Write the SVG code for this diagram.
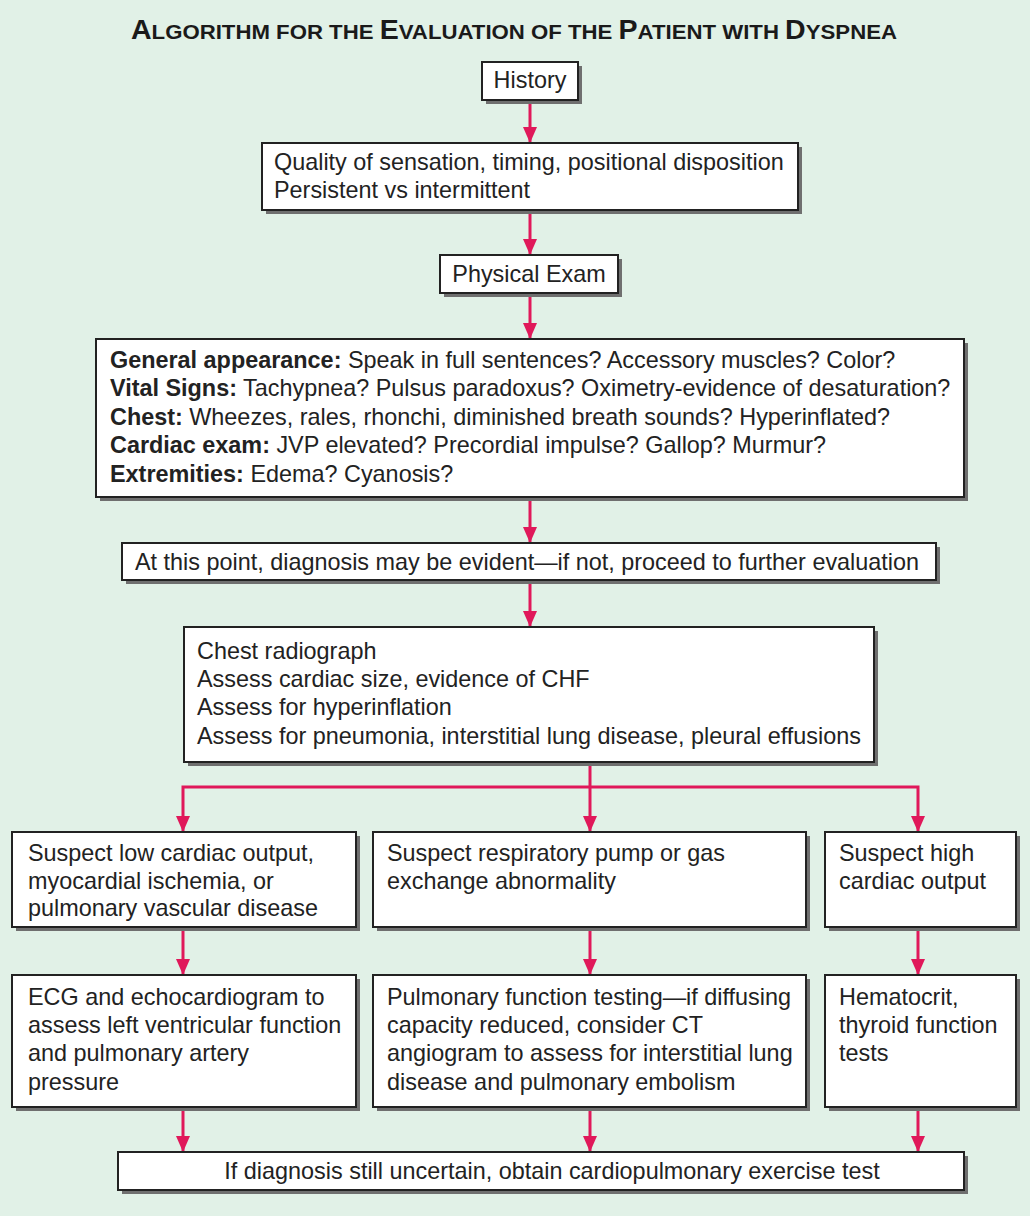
<svg xmlns="http://www.w3.org/2000/svg" width="1030" height="1216" viewBox="0 0 1030 1216">
<defs>
<style>
.bg{fill:#e1f1e7}
.sh{fill:#6f6f6f}
.bx{fill:#ffffff;stroke:#222;stroke-width:2}
.t{font-family:"Liberation Sans",Arial,sans-serif;font-size:23.4px;fill:#222}
.b{font-weight:bold}
.title{font-family:"Liberation Sans",Arial,sans-serif;font-weight:bold;fill:#1a1a1a}
.c{stroke:#e0185a;stroke-width:3;fill:none}
</style>
<marker id="ad" markerWidth="14" markerHeight="16" refX="7" refY="16" orient="0" markerUnits="userSpaceOnUse" viewBox="0 0 14 16">
<path d="M0,0 L14,0 L7,16 Z" fill="#e0185a"/>
</marker>
</defs>
<rect class="bg" x="0" y="0" width="1030" height="1216"/>
<text class="title" x="514" y="39" text-anchor="middle" textLength="766" lengthAdjust="spacingAndGlyphs"><tspan font-size="27">A</tspan><tspan font-size="21">LGORITHM FOR THE </tspan><tspan font-size="27">E</tspan><tspan font-size="21">VALUATION OF THE </tspan><tspan font-size="27">P</tspan><tspan font-size="21">ATIENT WITH </tspan><tspan font-size="27">D</tspan><tspan font-size="21">YSPNEA</tspan></text>

<g id="connectors">
<line class="c" x1="530" y1="100" x2="530" y2="143" marker-end="url(#ad)"/>
<line class="c" x1="530" y1="210" x2="530" y2="255" marker-end="url(#ad)"/>
<line class="c" x1="530" y1="293" x2="530" y2="339" marker-end="url(#ad)"/>
<line class="c" x1="530" y1="497" x2="530" y2="543" marker-end="url(#ad)"/>
<line class="c" x1="530" y1="580" x2="530" y2="627" marker-end="url(#ad)"/>
<polyline class="c" points="590,762 590,787"/>
<polyline class="c" points="183,832 183,787 918,787 918,832" marker-start="url(#ad)" marker-end="url(#ad)"/>
<line class="c" x1="590" y1="787" x2="590" y2="832" marker-end="url(#ad)"/>
<line class="c" x1="183" y1="927" x2="183" y2="975" marker-end="url(#ad)"/>
<line class="c" x1="590" y1="927" x2="590" y2="975" marker-end="url(#ad)"/>
<line class="c" x1="918" y1="927" x2="918" y2="975" marker-end="url(#ad)"/>
<line class="c" x1="183" y1="1107" x2="183" y2="1152" marker-end="url(#ad)"/>
<line class="c" x1="590" y1="1107" x2="590" y2="1152" marker-end="url(#ad)"/>
<line class="c" x1="918" y1="1107" x2="918" y2="1152" marker-end="url(#ad)"/>
</g>

<g id="history">
<rect class="sh" x="486" y="66" width="96" height="38"/>
<rect class="bx" x="482" y="62" width="96" height="38"/>
<text class="t" x="530" y="88" text-anchor="middle">History</text>
</g>

<g id="quality">
<rect class="sh" x="266" y="147" width="536" height="67"/>
<rect class="bx" x="262" y="143" width="536" height="67"/>
<text class="t" x="274" y="170">Quality of sensation, timing, positional disposition</text>
<text class="t" x="274" y="198">Persistent vs intermittent</text>
</g>

<g id="physical">
<rect class="sh" x="444" y="259" width="178" height="38"/>
<rect class="bx" x="440" y="255" width="178" height="38"/>
<text class="t" x="529" y="282" text-anchor="middle">Physical Exam</text>
</g>

<g id="exam">
<rect class="sh" x="100" y="343" width="868" height="158"/>
<rect class="bx" x="96" y="339" width="868" height="158"/>
<text class="t" x="110" y="368"><tspan class="b">General appearance:</tspan> Speak in full sentences? Accessory muscles? Color?</text>
<text class="t" x="110" y="396"><tspan class="b">Vital Signs:</tspan> Tachypnea? Pulsus paradoxus? Oximetry-evidence of desaturation?</text>
<text class="t" x="110" y="425"><tspan class="b">Chest:</tspan> Wheezes, rales, rhonchi, diminished breath sounds? Hyperinflated?</text>
<text class="t" x="110" y="453"><tspan class="b">Cardiac exam:</tspan> JVP elevated? Precordial impulse? Gallop? Murmur?</text>
<text class="t" x="110" y="482"><tspan class="b">Extremities:</tspan> Edema? Cyanosis?</text>
</g>

<g id="atpoint">
<rect class="sh" x="126" y="547" width="814" height="37"/>
<rect class="bx" x="122" y="543" width="814" height="37"/>
<text class="t" x="135" y="570">At this point, diagnosis may be evident—if not, proceed to further evaluation</text>
</g>

<g id="chest">
<rect class="sh" x="188" y="631" width="690" height="135"/>
<rect class="bx" x="184" y="627" width="690" height="135"/>
<text class="t" x="197" y="659">Chest radiograph</text>
<text class="t" x="197" y="687">Assess cardiac size, evidence of CHF</text>
<text class="t" x="197" y="715">Assess for hyperinflation</text>
<text class="t" x="197" y="744">Assess for pneumonia, interstitial lung disease, pleural effusions</text>
</g>

<g id="lowcardiac">
<rect class="sh" x="16" y="836" width="344" height="95"/>
<rect class="bx" x="12" y="832" width="344" height="95"/>
<text class="t" x="28" y="861">Suspect low cardiac output,</text>
<text class="t" x="28" y="889">myocardial ischemia, or</text>
<text class="t" x="28" y="916">pulmonary vascular disease</text>
</g>

<g id="respiratory">
<rect class="sh" x="377" y="836" width="433" height="95"/>
<rect class="bx" x="373" y="832" width="433" height="95"/>
<text class="t" x="387" y="861">Suspect respiratory pump or gas</text>
<text class="t" x="387" y="889">exchange abnormality</text>
</g>

<g id="highcardiac">
<rect class="sh" x="829" y="836" width="191" height="95"/>
<rect class="bx" x="825" y="832" width="191" height="95"/>
<text class="t" x="839" y="861">Suspect high</text>
<text class="t" x="839" y="889">cardiac output</text>
</g>

<g id="ecg">
<rect class="sh" x="16" y="979" width="344" height="132"/>
<rect class="bx" x="12" y="975" width="344" height="132"/>
<text class="t" x="28" y="1005">ECG and echocardiogram to</text>
<text class="t" x="28" y="1033">assess left ventricular function</text>
<text class="t" x="28" y="1061">and pulmonary artery</text>
<text class="t" x="28" y="1090">pressure</text>
</g>

<g id="pft">
<rect class="sh" x="377" y="979" width="433" height="132"/>
<rect class="bx" x="373" y="975" width="433" height="132"/>
<text class="t" x="387" y="1005">Pulmonary function testing—if diffusing</text>
<text class="t" x="387" y="1033">capacity reduced, consider CT</text>
<text class="t" x="387" y="1061">angiogram to assess for interstitial lung</text>
<text class="t" x="387" y="1090">disease and pulmonary embolism</text>
</g>

<g id="hematocrit">
<rect class="sh" x="829" y="979" width="191" height="132"/>
<rect class="bx" x="825" y="975" width="191" height="132"/>
<text class="t" x="839" y="1005">Hematocrit,</text>
<text class="t" x="839" y="1033">thyroid function</text>
<text class="t" x="839" y="1061">tests</text>
</g>

<g id="exercise">
<rect class="sh" x="122" y="1156" width="846" height="38"/>
<rect class="bx" x="118" y="1152" width="846" height="38"/>
<text class="t" x="552" y="1179" text-anchor="middle">If diagnosis still uncertain, obtain cardiopulmonary exercise test</text>
</g>
</svg>
